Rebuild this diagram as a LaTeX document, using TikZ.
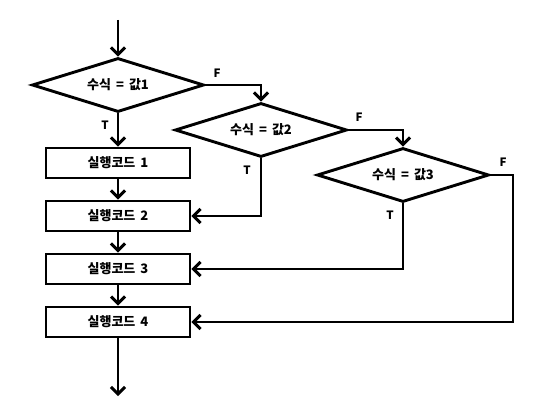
\documentclass[tikz,border=0pt]{standalone}
\usepackage{fontspec}
\setmainfont{Noto Sans CJK KR}[WordSpace=1.7]
\usetikzlibrary{shapes.geometric,arrows.meta}
\begin{document}
\begin{tikzpicture}[x=1pt,y=-1pt,
  every node/.style={font=\bfseries},
  conn/.style={line width=2.9pt,-{Straight Barb[length=7pt,width=14pt]}},
  dec/.style={diamond,draw,line width=2.9pt,minimum width=172pt,minimum height=54pt,inner sep=0pt,aspect=3.2,font=\bfseries\fontsize{13}{15}\selectfont},
  proc/.style={rectangle,draw,line width=2.9pt,minimum width=144pt,minimum height=30pt,inner sep=0pt,font=\bfseries\fontsize{13}{15}\selectfont},
  lbl/.style={font=\bfseries\fontsize{11.5}{13}\selectfont,inner sep=0pt}]
\useasboundingbox (0,0) rectangle (550,420);
\coordinate (start) at (118,20);
\node[dec] (d1) at (118,85) {수식 = 값1};
\node[dec] (d2) at (261,130) {수식 = 값2};
\node[dec] (d3) at (403,175) {수식 = 값3};
\node[proc] (b1) at (118,163) {실행코드 1};
\node[proc] (b2) at (118,216) {실행코드 2};
\node[proc] (b3) at (118,269) {실행코드 3};
\node[proc] (b4) at (118,322) {실행코드 4};
\coordinate (end) at (118,396);
\coordinate (c3) at (513,175);
\draw[conn] (start) -- (d1.north);
\draw[conn] (d1.south) -- (b1.north);
\draw[conn] (b1.south) -- (b2.north);
\draw[conn] (b2.south) -- (b3.north);
\draw[conn] (b3.south) -- (b4.north);
\draw[conn] (b4.south) -- (end);
\draw[conn] (d1.east) -| (d2.north);
\draw[conn] (d2.east) -| (d3.north);
\draw[conn] (d2.south) |- (b2.east);
\draw[conn] (d3.south) |- (b3.east);
\draw[conn] (d3.east) -- (c3) |- (b4.east);
\node[lbl] (f1) at (217,73) {F};
\node[lbl] (f2) at (359,117) {F};
\node[lbl] (f3) at (503,162) {F};
\node[lbl] (t1) at (105,125) {T};
\node[lbl] (t2) at (247,170) {T};
\node[lbl] (t3) at (390,215) {T};
\end{tikzpicture}
\end{document}
